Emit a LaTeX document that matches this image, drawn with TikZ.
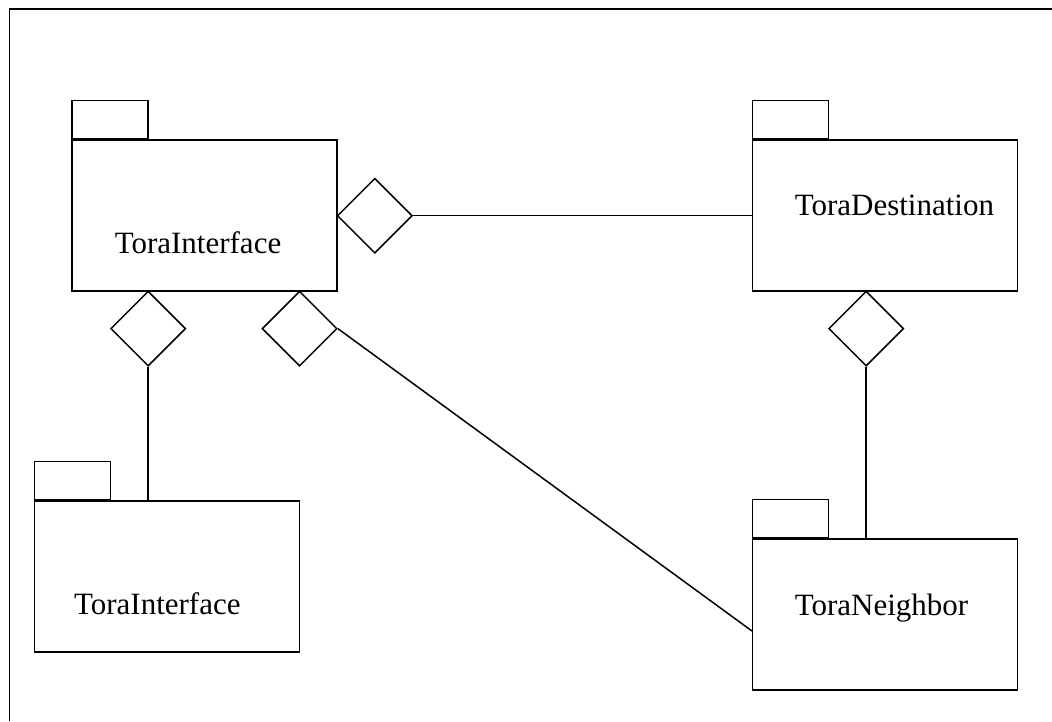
\documentclass[tikz,border=0pt]{standalone}
\usepackage{fontspec}
\setmainfont{Liberation Serif}
\usetikzlibrary{shapes.geometric,calc}
\begin{document}
\begin{tikzpicture}[x=1pt,y=-1pt,line width=1.5pt,
  pkgbody/.style={draw,rectangle,inner sep=0pt,minimum width=265pt,minimum height=151pt},
  pkgtab/.style={draw,rectangle,inner sep=0pt,minimum width=76pt,minimum height=38pt,anchor=south west},
  pkgname/.style={anchor=base west,inner sep=0pt,font=\fontsize{31}{36}\selectfont},
  aggr/.style={draw,diamond,aspect=1,inner sep=0pt,minimum width=75pt,minimum height=75pt,fill=white},
  link/.style={draw}]
  \useasboundingbox (0,0) rectangle (1052,721);
  % outer frame (top and left edges)
  \draw (9.5,721) -- (9.5,9) -- (1052,9);

  % packages
  \node[pkgbody] (ti) at (204.7,215.7) {};
  \node[pkgtab] (titab) at (ti.north west) {};
  \node[pkgname] (tiname) at (114,253.3) {ToraInterface};

  \node[pkgbody] (td) at (885.2,215.7) {};
  \node[pkgtab] (tdtab) at (td.north west) {};
  \node[pkgname] (tdname) at (794,215) {ToraDestination};

  \node[pkgbody] (tn) at (885.2,614.5) {};
  \node[pkgtab] (tntab) at (tn.north west) {};
  \node[pkgname] (tnname) at (794,615) {ToraNeighbor};

  \node[pkgbody] (tj) at (167.2,576.5) {};
  \node[pkgtab] (tjtab) at (tj.north west) {};
  \node[pkgname] (tjname) at (73.3,614) {ToraInterface};

  % aggregation diamonds
  \node[aggr] (d1) at (374.8,215.7) {};
  \node[aggr] (d2) at (148.2,328.6) {};
  \node[aggr] (d3) at (299.6,328.6) {};
  \node[aggr] (d4) at (866.2,328.6) {};

  % connectors
  \draw[link] (d1.east) -- (td.west);
  \draw[link] (d2.south) -- (d2.south |- tj.north);
  \draw[link] (d3.east) -- ([yshift=-16.5pt]tn.west);
  \draw[link] (d4.south) -- (d4.south |- tn.north);
\end{tikzpicture}
\end{document}
